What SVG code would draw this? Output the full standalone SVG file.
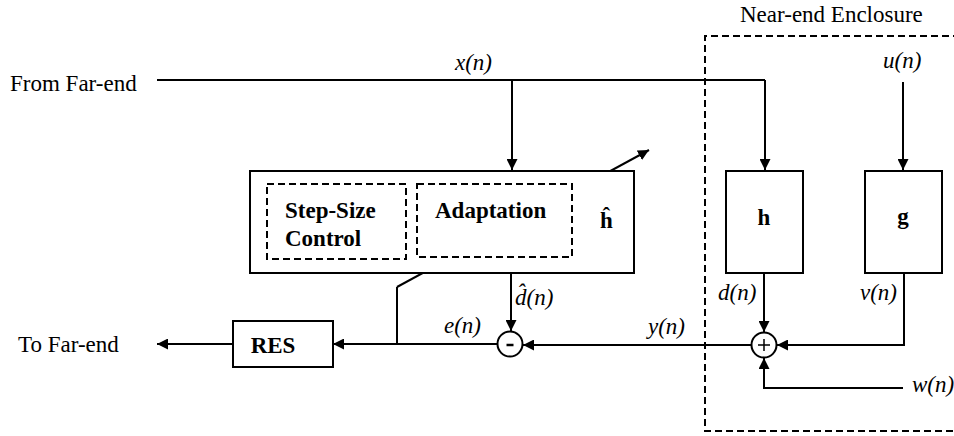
<svg xmlns="http://www.w3.org/2000/svg" width="954" height="436" viewBox="0 0 954 436">
<defs>
<style>
text{font-family:'Liberation Serif','Times New Roman',Times,Tinos,'DejaVu Serif','Noto Serif',serif;font-size:23px;fill:#000}
.i{font-style:italic}
.b{font-weight:bold}
.ln{fill:none;stroke:#000;stroke-width:2}
.box{fill:#fff;stroke:#000;stroke-width:2}
.dash{fill:none;stroke:#000;stroke-width:2;stroke-dasharray:7,4}
</style>
<marker id="ah" viewBox="0 0 10 10" refX="10" refY="5" markerWidth="11" markerHeight="11" markerUnits="userSpaceOnUse" orient="auto">
<path d="M0,0 L10,5 L0,10 z" fill="#000"/>
</marker>
</defs>
<rect width="954" height="436" fill="#fff"/>

<g id="enclosure">
<path class="dash" d="M960,36 H705 V431 H960"/>
<text x="740" y="22">Near-end Enclosure</text>
</g>

<g id="connectors">
<path class="ln" d="M157,80 H765" stroke-width="2.6"/>
<path class="ln" d="M765,80 V170" marker-end="url(#ah)"/>
<path class="ln" d="M512,80 V170" marker-end="url(#ah)"/>
<path class="ln" d="M903,82 V170" marker-end="url(#ah)"/>
<path class="ln" d="M397,287 L649,150" marker-end="url(#ah)"/>
<path class="ln" d="M397,287 V344"/>
<path class="ln" d="M764,273 V332" marker-end="url(#ah)"/>
<path class="ln" d="M904,273 V345 H777" marker-end="url(#ah)"/>
<path class="ln" d="M903,388 H764 V358" marker-end="url(#ah)"/>
<path class="ln" d="M751,345 H523" marker-end="url(#ah)"/>
<path class="ln" d="M511,273 V331" marker-end="url(#ah)"/>
<path class="ln" d="M497,344 H333" marker-end="url(#ah)"/>
<path class="ln" d="M233,344 H157" marker-end="url(#ah)"/>
</g>

<g id="filter">
<rect class="box" x="250" y="171" width="384" height="102"/>
<rect class="dash" x="267" y="184" width="139" height="75"/>
<rect class="dash" x="417" y="184" width="155" height="73"/>
<text class="b" x="285" y="218">Step-Size</text>
<text class="b" x="285" y="246">Control</text>
<text class="b" x="435" y="218">Adaptation</text>
<text class="b" x="600" y="228">ĥ</text>
</g>

<g id="h">
<rect class="box" x="726" y="171" width="77" height="102"/>
<text class="b" x="764" y="225" text-anchor="middle">h</text>
</g>

<g id="g">
<rect class="box" x="865" y="171" width="77" height="102"/>
<text class="b" x="903" y="224" text-anchor="middle">g</text>
</g>

<g id="res">
<rect class="box" x="233" y="321" width="100" height="46"/>
<text class="b" x="273" y="353" text-anchor="middle">RES</text>
</g>

<g id="minus">
<circle class="box" cx="510" cy="344" r="12.5"/>
<path d="M506.5,345 H513.5" stroke="#000" stroke-width="2.5"/>
</g>

<g id="plus">
<circle class="box" cx="764" cy="345" r="12.5"/>
<path d="M758,345 H770 M764,339 V351" stroke="#000" stroke-width="1.5"/>
</g>

<g id="labels">
<text x="10" y="91">From Far-end</text>
<text x="18" y="352">To Far-end</text>
<text class="i" x="455" y="70">x(n)</text>
<text class="i" x="883" y="68">u(n)</text>
<text class="i" x="444" y="333">e(n)</text>
<text class="i" x="515" y="305">d̂(n)</text>
<text class="i" x="648" y="334">y(n)</text>
<text class="i" x="718" y="300">d(n)</text>
<text class="i" x="860" y="300">v(n)</text>
<text class="i" x="912" y="392">w(n)</text>
</g>
</svg>
